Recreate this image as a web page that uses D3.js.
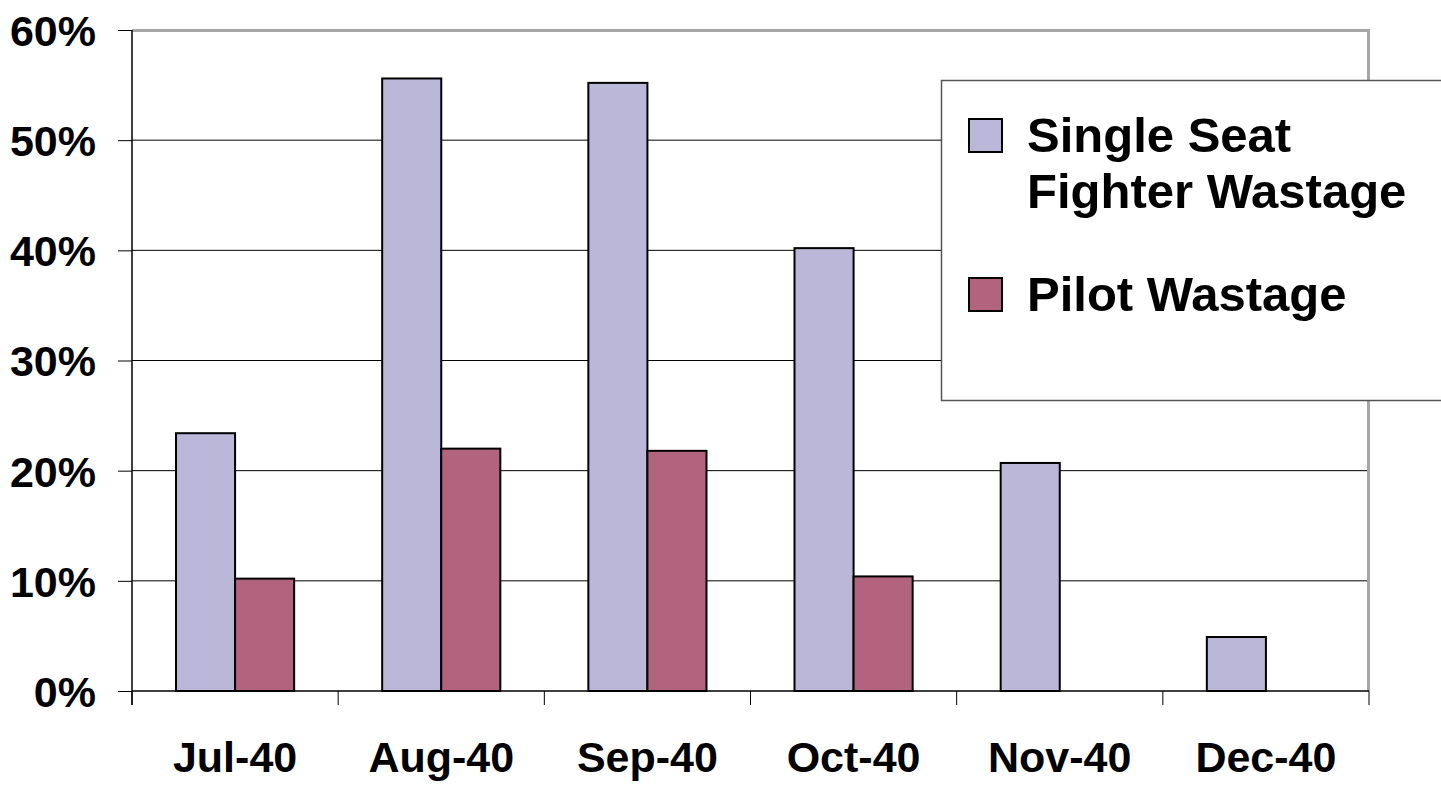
<!DOCTYPE html>
<html>
<head>
<meta charset="utf-8">
<script src="https://cdn.jsdelivr.net/npm/d3@7"></script>
<style>
  body { margin: 0; background: #fff; overflow: hidden; }
  svg { display: block; font-family: "Liberation Sans", Arial, Helvetica, sans-serif; font-weight: bold; }
</style>
</head>
<body>
<div id="chart"></div>
<script>
// Data
const months = ["Jul-40", "Aug-40", "Sep-40", "Oct-40", "Nov-40", "Dec-40"];
const fighterWastage = [23.4, 55.6, 55.2, 40.2, 20.7, 4.9];
const pilotWastage = [10.2, 22.0, 21.8, 10.4, 0, 0];
const yTicks = [0, 10, 20, 30, 40, 50, 60];
const seriesNames = ["Single Seat Fighter Wastage", "Pilot Wastage"];
const seriesColors = ["#bab7d8", "#b2647e"];

const width = 1441;
const height = 788;
const margin = {top: 30, right: 72, bottom: 97, left: 132};
const innerWidth = width - margin.left - margin.right;
const innerHeight = height - margin.top - margin.bottom;

const data = months.map((m, i) => ({month: m, values: [fighterWastage[i], pilotWastage[i]]}));

const svg = d3.select("#chart")
  .append("svg")
    .attr("width", width)
    .attr("height", height);

const chart = svg.append("g")
  .attr("transform", `translate(${margin.left}, ${margin.top})`);

// Scales
const xScale = d3.scaleBand()
  .domain(months)
  .range([0, innerWidth]);

const xSub = d3.scaleBand()
  .domain([0, 1])
  .range([0, xScale.bandwidth()])
  .paddingOuter(0.745);

const yScale = d3.scaleLinear()
  .domain([0, 60])
  .range([innerHeight, 0]);

// Gridlines
chart.append("g")
  .selectAll("line")
  .data(yTicks.filter(t => t > 0 && t < 60))
  .join("line")
    .attr("x1", 0)
    .attr("x2", innerWidth)
    .attr("y1", d => yScale(d))
    .attr("y2", d => yScale(d))
    .attr("stroke", "#000")
    .attr("stroke-width", 1);

// plot area border (top & right, gray)
chart.append("path")
  .attr("d", `M0,0.5 H${innerWidth - 0.5} V${innerHeight}`)
  .attr("fill", "none")
  .attr("stroke", "#a6a6a6")
  .attr("stroke-width", 3);

// Bars
const groups = chart.selectAll(".month")
  .data(data)
  .join("g")
    .attr("class", "month")
    .attr("transform", d => `translate(${xScale(d.month)}, 0)`);

groups.selectAll("rect")
  .data(d => d.values.map((v, i) => ({i, v})).filter(d => d.v > 0))
  .join("rect")
    .attr("x", d => xSub(d.i))
    .attr("y", d => yScale(d.v))
    .attr("width", xSub.bandwidth())
    .attr("height", d => innerHeight - yScale(d.v))
    .attr("fill", d => seriesColors[d.i])
    .attr("stroke", "#000")
    .attr("stroke-width", 2);

// Left axis
const leftAxis = d3.axisLeft(yScale)
  .tickValues(yTicks)
  .tickSize(14)
  .tickPadding(22)
  .tickFormat(d => d + "%");
const yAxisG = chart.append("g")
  .attr("class", "axis axis-y")
  .call(leftAxis);
yAxisG.select(".domain").remove();
yAxisG.selectAll(".tick line").attr("stroke", "#000").attr("stroke-width", 1);
yAxisG.selectAll("text")
  .attr("fill", "#000")
  .style("font-size", "43px")
  .style("font-family", "'Liberation Sans', Arial, sans-serif")
  .style("font-weight", "bold")
  .attr("dy", "0.36em");

// vertical axis line
chart.append("line")
  .attr("x1", 0).attr("x2", 0)
  .attr("y1", 0).attr("y2", innerHeight + 14)
  .attr("stroke", "#000")
  .attr("stroke-width", 1.5);

// Bottom axis: ticks at category boundaries
const boundaries = months.map(m => xScale(m)).concat([innerWidth]);
chart.append("line")
  .attr("x1", 0).attr("x2", innerWidth)
  .attr("y1", innerHeight).attr("y2", innerHeight)
  .attr("stroke", "#000")
  .attr("stroke-width", 1.5);
chart.append("g")
  .selectAll("line")
  .data(boundaries)
  .join("line")
    .attr("x1", d => d).attr("x2", d => d)
    .attr("y1", innerHeight).attr("y2", innerHeight + 14)
    .attr("stroke", "#000")
    .attr("stroke-width", 1);

chart.append("g")
  .selectAll("text")
  .data(months)
  .join("text")
    .text(d => d)
    .attr("x", d => xScale(d) + xScale.bandwidth() / 2)
    .attr("y", innerHeight + 81)
    .attr("text-anchor", "middle")
    .style("font-size", "43px");

// Legend (box runs past the right edge, as in the original)
const legend = svg.append("g")
  .attr("transform", "translate(941, 80)");
legend.append("rect")
  .attr("x", 0.5)
  .attr("y", 0.5)
  .attr("width", 520)
  .attr("height", 320)
  .attr("fill", "#fff")
  .attr("stroke", "#555")
  .attr("stroke-width", 1.5);

const legendItems = [
  {lines: ["Single Seat", "Fighter Wastage"], y: 39},
  {lines: ["Pilot Wastage"], y: 198}
];
legendItems.forEach((item, i) => {
  legend.append("rect")
    .attr("x", 28)
    .attr("y", item.y)
    .attr("width", 33)
    .attr("height", 33)
    .attr("fill", seriesColors[i])
    .attr("stroke", "#000")
    .attr("stroke-width", 2);
  const t = legend.append("text")
    .attr("x", 86)
    .attr("y", item.y + 33)
    .style("font-size", "49px");
  item.lines.forEach((line, j) => {
    t.append("tspan")
      .attr("x", 86)
      .attr("dy", j === 0 ? 0 : 56)
      .text(line);
  });
});
</script>
</body>
</html>
